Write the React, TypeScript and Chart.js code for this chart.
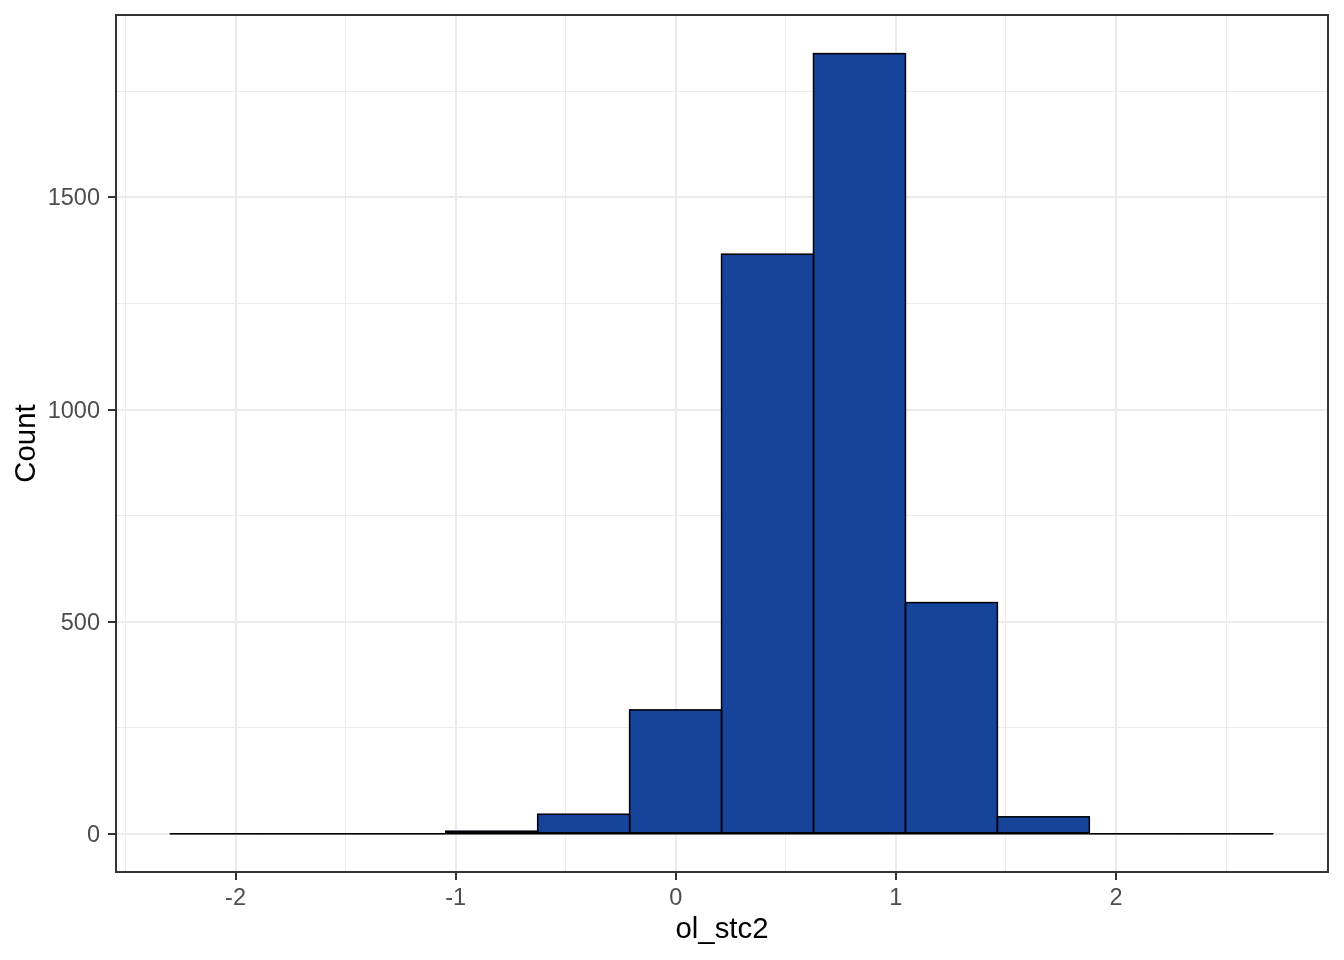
import React, { useEffect, useRef } from 'react';
import { Chart, registerables } from 'chart.js';

Chart.register(...registerables);

// Histogram bins (edges) and counts
const binEdges = [-2.298, -1.88033, -1.46266, -1.04499, -0.62732, -0.20965, 0.20802, 0.62569, 1.04336, 1.46103, 1.8787, 2.29637, 2.71404];
const counts = [0, 0, 0, 6, 46, 292, 1366, 1839, 545, 40, 0, 0];

const xMajorTicks = [-2, -1, 0, 1, 2];
const xMinorTicks = [-2.5, -1.5, -0.5, 0.5, 1.5, 2.5];
const yMajorTicks = [0, 500, 1000, 1500];
const yMinorTicks = [250, 750, 1250, 1750];

const xTitle = 'ol_stc2';
const yTitle = 'Count';

const FONT = "'Liberation Sans', Arial, Helvetica, sans-serif";

const inList = (list: number[], v: number) => list.some((m) => Math.abs(m - v) < 1e-9);

// Outline every histogram bar (ggplot-style centred stroke) using the bar elements' geometry
const barOutline = {
  id: 'barOutline',
  afterDatasetsDraw(chart: any) {
    const { ctx } = chart;
    const meta = chart.getDatasetMeta(1);
    ctx.save();
    ctx.strokeStyle = '#000000';
    ctx.lineWidth = 1.5;
    meta.data.forEach((el: any, i: number) => {
      if (!counts[i]) return;
      const { x, y, base, width } = el.getProps(['x', 'y', 'base', 'width'], true);
      ctx.strokeRect(x - width / 2, Math.min(y, base), width, Math.abs(base - y));
    });
    ctx.restore();
  },
};

const panelBorder = {
  id: 'panelBorder',
  afterDatasetsDraw(chart: any) {
    const { ctx, chartArea } = chart;
    ctx.save();
    ctx.strokeStyle = '#333333';
    ctx.lineWidth = 2;
    ctx.strokeRect(chartArea.left, chartArea.top, chartArea.right - chartArea.left, chartArea.bottom - chartArea.top);
    ctx.restore();
  },
};

export default function App() {
  const ref = useRef<HTMLCanvasElement | null>(null);

  useEffect(() => {
    document.body.style.margin = '0';
    const canvas = ref.current;
    if (!canvas) return;

    const centers = counts.map((_, i) => (binEdges[i] + binEdges[i + 1]) / 2);
    const barData = centers.map((x, i) => ({ x, y: counts[i] }));

    const chart = new Chart(canvas, {
      type: 'bar',
      data: {
        datasets: [
          {
            type: 'line',
            data: [
              { x: binEdges[0], y: 0 },
              { x: binEdges[binEdges.length - 1], y: 0 },
            ],
            borderColor: '#000000',
            borderWidth: 1.5,
            pointRadius: 0,
            fill: false,
            tension: 0,
            order: 0,
          } as any,
          {
            type: 'bar',
            data: barData,
            backgroundColor: '#17449B',
            borderWidth: 0,
            borderSkipped: false,
            barPercentage: 1,
            categoryPercentage: 1,
            inflateAmount: 0.5,
            order: 1,
          } as any,
        ],
      },
      options: {
        animation: false,
        responsive: false,
        devicePixelRatio: 1,
        events: [],
        layout: { padding: { left: 0, top: 15, right: 16, bottom: 0 } },
        plugins: {
          legend: { display: false },
          tooltip: { enabled: false },
        },
        scales: {
          x: {
            type: 'linear',
            min: -2.543,
            max: 2.963,
            offset: false,
            afterBuildTicks: (axis: any) => {
              axis.ticks = [...xMinorTicks, ...xMajorTicks].sort((a, b) => a - b).map((v) => ({ value: v }));
            },
            afterFit: (s: any) => {
              s.height = 88;
              s.paddingLeft = 0;
              s.paddingRight = 0;
            },
            border: { display: false },
            grid: {
              offset: false,
              color: '#EBEBEB',
              lineWidth: (c: any) => (inList(xMajorTicks, c.tick?.value) ? 2 : 1),
              drawTicks: true,
              tickLength: 8,
              tickWidth: 2,
              tickColor: (c: any) => (inList(xMajorTicks, c.tick?.value) ? '#333333' : 'rgba(0,0,0,0)'),
            },
            ticks: {
              autoSkip: false,
              maxRotation: 0,
              minRotation: 0,
              padding: 4,
              color: '#4D4D4D',
              font: { family: FONT, size: 23.5 },
              callback: (v: any) => (inList(xMajorTicks, Number(v)) ? String(v) : ''),
            },
            title: {
              display: true,
              text: xTitle,
              color: '#000000',
              font: { family: FONT, size: 29.33 },
              padding: { top: 0, bottom: 12.4 },
            },
          } as any,
          y: {
            type: 'linear',
            min: -90,
            max: 1930,
            afterBuildTicks: (axis: any) => {
              axis.ticks = [...yMajorTicks, ...yMinorTicks].sort((a, b) => a - b).map((v) => ({ value: v }));
            },
            afterFit: (s: any) => {
              s.width = 116;
              s.paddingTop = 0;
              s.paddingBottom = 0;
            },
            border: { display: false },
            grid: {
              color: '#EBEBEB',
              lineWidth: (c: any) => (inList(yMajorTicks, c.tick?.value) ? 2 : 1),
              drawTicks: true,
              tickLength: 8,
              tickWidth: 2,
              tickColor: (c: any) => (inList(yMajorTicks, c.tick?.value) ? '#333333' : 'rgba(0,0,0,0)'),
            },
            ticks: {
              autoSkip: false,
              padding: 8,
              labelOffset: 1.5,
              color: '#4D4D4D',
              font: { family: FONT, size: 23.5 },
              callback: (v: any) => (inList(yMajorTicks, Number(v)) ? String(v) : ''),
            },
            title: {
              display: true,
              text: yTitle,
              color: '#000000',
              font: { family: FONT, size: 29.33 },
              padding: { top: 9.1, bottom: 0 },
            },
          } as any,
        },
      },
      plugins: [barOutline, panelBorder],
    } as any);

    return () => chart.destroy();
  }, []);

  return (
    <div style={{ width: 1344, height: 960, background: '#FFFFFF' }}>
      <canvas ref={ref} width={1344} height={960} style={{ display: 'block', width: 1344, height: 960 }} />
    </div>
  );
}
